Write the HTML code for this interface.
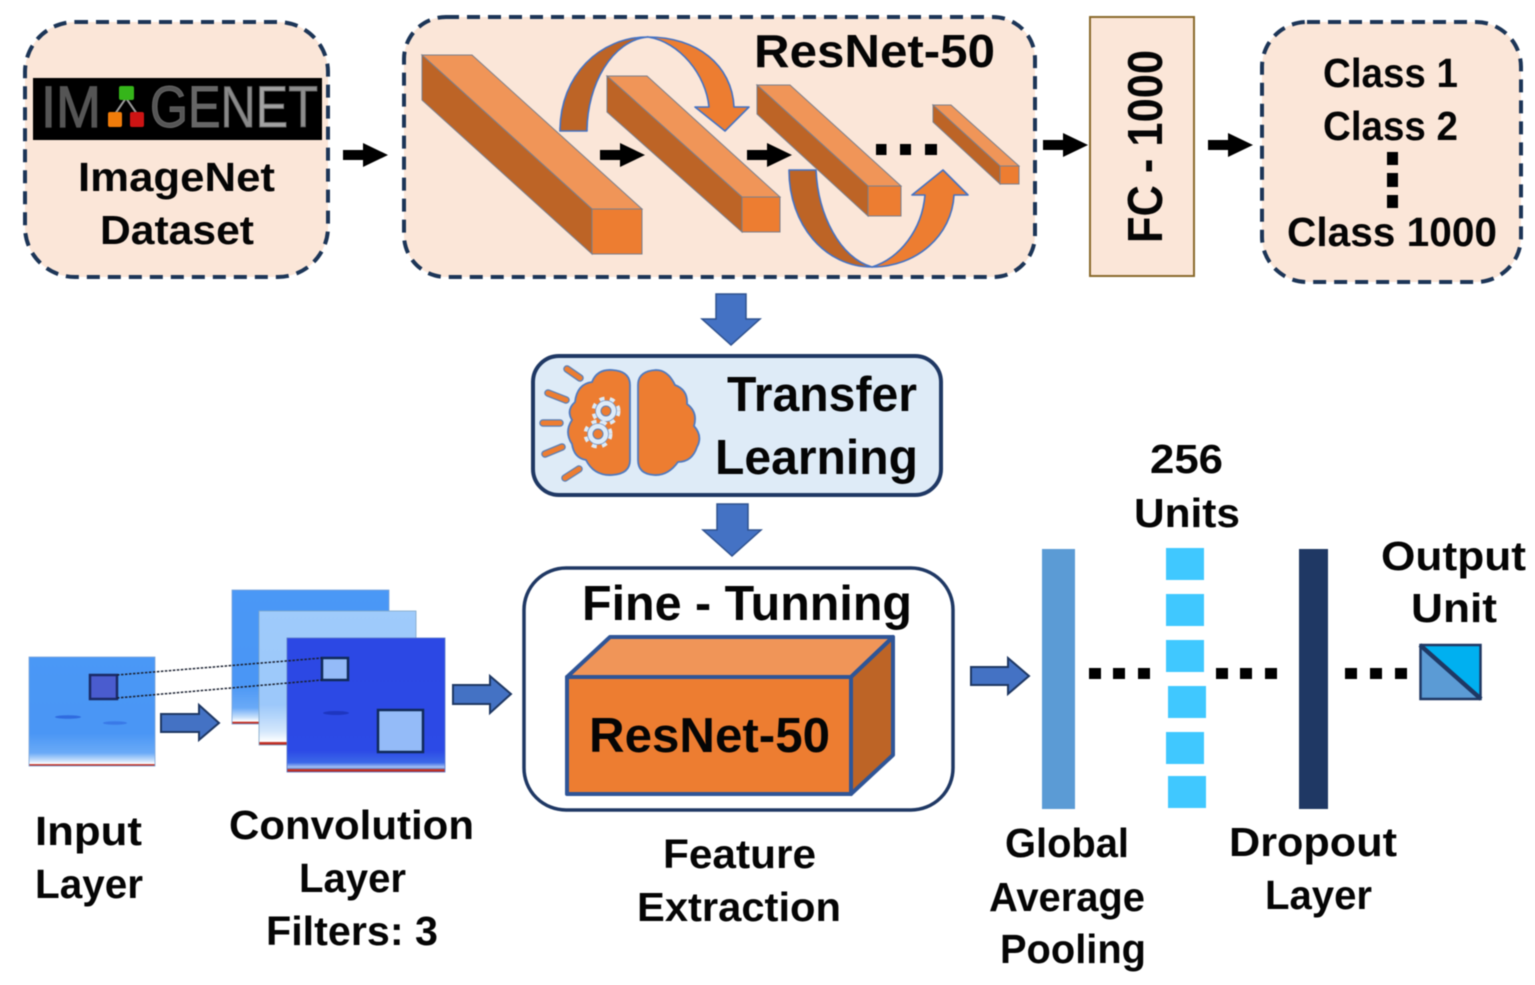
<!DOCTYPE html>
<html>
<head>
<meta charset="utf-8">
<style>
html,body{margin:0;padding:0;background:#fff;width:1535px;height:985px;overflow:hidden}
svg{display:block;filter:blur(0.45px)}
text{font-family:"Liberation Sans",sans-serif;font-weight:bold;fill:#050505}
</style>
</head>
<body>
<svg width="1535" height="985" viewBox="0 0 1535 985" xmlns="http://www.w3.org/2000/svg">
<defs>
<path id="ba" d="M0,-5 H20 V-12 L45,0 L20,12 V5 H0 Z" fill="#000"/>
<linearGradient id="g1" x1="0" y1="0" x2="0" y2="1">
<stop offset="0" stop-color="#4a98f6"/><stop offset=".7" stop-color="#4a96f5"/><stop offset=".88" stop-color="#6aaaf7"/><stop offset=".95" stop-color="#c8e0fb"/><stop offset=".98" stop-color="#fff"/><stop offset=".985" stop-color="#c8392c"/><stop offset="1" stop-color="#b0201c"/>
</linearGradient>
<linearGradient id="g2" x1="0" y1="0" x2="0" y2="1">
<stop offset="0" stop-color="#9fcbfb"/><stop offset=".7" stop-color="#9cc8fa"/><stop offset=".9" stop-color="#d5e8fc"/><stop offset=".975" stop-color="#fff"/><stop offset=".98" stop-color="#c8392c"/><stop offset="1" stop-color="#b0201c"/>
</linearGradient>
<linearGradient id="g3" x1="0" y1="0" x2="0" y2="1">
<stop offset="0" stop-color="#2c48e4"/><stop offset=".84" stop-color="#2c4ae6"/><stop offset=".93" stop-color="#3c68e8"/><stop offset=".965" stop-color="#a8c4f4"/><stop offset=".975" stop-color="#5a88d8"/><stop offset=".98" stop-color="#c8392c"/><stop offset="1" stop-color="#b0201c"/>
</linearGradient>
</defs>

<rect width="1535" height="985" fill="#fff"/>

<!-- ImageNet -->
<rect x="25" y="22" width="303" height="255" rx="50" fill="#fbe6d8" stroke="#1c3557" stroke-width="4" stroke-dasharray="13 8"/>
<rect x="33" y="78" width="289" height="62" fill="#000"/>
<text x="41" y="127" font-size="58" textLength="60" lengthAdjust="spacingAndGlyphs" style="font-weight:normal;fill:#555;stroke:#555;stroke-width:1.200">IM</text>
<text x="150" y="127" font-size="58" textLength="168" lengthAdjust="spacingAndGlyphs" style="font-weight:normal;stroke:#666;stroke-width:1"><tspan fill="#555">G</tspan><tspan fill="#666">E</tspan><tspan fill="#8a8a8a">N</tspan><tspan fill="#a2a2a2">E</tspan><tspan fill="#8e8e8e">T</tspan></text>
<path d="M126,98 L115,114 M126,98 L137,114" stroke="#999" stroke-width="2"/>
<rect x="119" y="86" width="15" height="14" rx="2" fill="#35b51a"/>
<rect x="108" y="112" width="14" height="15" rx="2" fill="#f07c0a"/>
<rect x="130" y="112" width="14" height="15" rx="2" fill="#cc1414"/>
<text x="78" y="191" font-size="41" textLength="197" lengthAdjust="spacingAndGlyphs">ImageNet</text>
<text x="100" y="244" font-size="41" textLength="154" lengthAdjust="spacingAndGlyphs">Dataset</text>
<use href="#ba" x="343" y="155"/>

<!-- ResNet -->
<rect x="404" y="17" width="631" height="260" rx="42" fill="#fbe6d8" stroke="#1c3557" stroke-width="4" stroke-dasharray="13 8"/>
<text x="754" y="67" font-size="46" textLength="241" lengthAdjust="spacingAndGlyphs">ResNet-50</text>

<g stroke="#7b7f8c" stroke-width="1">
<path d="M422,55 L472,55 L642,209 L592,209 Z" fill="#f09558"/>
<path d="M422,55 L592,209 L592,254 L422,100 Z" fill="#bd6426"/>
<rect x="592" y="209" width="50" height="45" fill="#ed7d31"/>
<path d="M607,76 L647,76 L780,197 L742,197 Z" fill="#f09558"/>
<path d="M607,76 L742,197 L742,232 L607,112 Z" fill="#bd6426"/>
<rect x="742" y="197" width="38" height="35" fill="#ed7d31"/>
<path d="M757,85 L790,85 L901,186 L868,186 Z" fill="#f09558"/>
<path d="M757,85 L868,186 L868,216 L757,114 Z" fill="#bd6426"/>
<rect x="868" y="186" width="33" height="30" fill="#ed7d31"/>
<path d="M933,105 L951,105 L1019,166 L1000,166 Z" fill="#f09558"/>
<path d="M933,105 L1000,166 L1000,184 L933,122 Z" fill="#bd6426"/>
<rect x="1000" y="166" width="19" height="18" fill="#ed7d31"/>
</g>

<g stroke="#4472c4" stroke-width="1.600" stroke-linejoin="round">
<path d="M560,131 C560,75 600,37 648,37 C612,40 587,85 587,131 Z" fill="#bd6426"/>
<path d="M648,37 C697,37 732,65 734,107 L749,107 L725,131 L695,107 L709,107 C706,75 680,42 648,37 Z" fill="#ed7d31"/>
<path d="M789,170 L816,170 C818,215 840,258 872,267 C825,267 789,225 789,170 Z" fill="#bd6426"/>
<path d="M872,267 C917,267 952,235 954,195 L968,195 L943,170 L912,195 L925,195 C922,230 900,258 872,267 Z" fill="#ed7d31"/>
</g>

<use href="#ba" x="600" y="155"/>
<use href="#ba" x="747" y="155"/>
<g fill="#000">
<rect x="876" y="144" width="10.500" height="11"/><rect x="900" y="144" width="11" height="11"/><rect x="925" y="144" width="12" height="11"/>
</g>
<use href="#ba" x="1043" y="145"/>

<!-- FC -->
<rect x="1090" y="17" width="104" height="259" fill="#fbe6d8" stroke="#8a6a2c" stroke-width="2"/>
<text transform="translate(1162,243) rotate(-90)" font-size="49" textLength="193" lengthAdjust="spacingAndGlyphs">FC - 1000</text>
<use href="#ba" x="1208" y="145"/>

<!-- Classes -->
<rect x="1262" y="22" width="259" height="260" rx="45" fill="#fbe6d8" stroke="#1c3557" stroke-width="4" stroke-dasharray="13 8"/>
<text x="1323" y="87" font-size="41" textLength="135" lengthAdjust="spacingAndGlyphs">Class 1</text>
<text x="1323" y="140" font-size="41" textLength="135" lengthAdjust="spacingAndGlyphs">Class 2</text>
<text x="1287" y="246" font-size="41" textLength="210" lengthAdjust="spacingAndGlyphs">Class 1000</text>
<g fill="#000"><rect x="1387" y="152" width="11" height="13"/><rect x="1387" y="173" width="11" height="14"/><rect x="1387" y="195" width="11" height="13"/></g>

<!-- Blue down arrows -->
<path d="M716,294 H746 V319 H760 L731,345 L702,319 H716 Z" fill="#4472c4" stroke="#2f528f" stroke-width="1.500"/>
<path d="M717,504 H748 V530 H761 L732,556 L703,530 H717 Z" fill="#4472c4" stroke="#2f528f" stroke-width="1.500"/>

<!-- Transfer -->
<rect x="533" y="356" width="408" height="139" rx="26" fill="#deebf7" stroke="#1f3864" stroke-width="4"/>
<text x="727" y="411" font-size="49" textLength="190" lengthAdjust="spacingAndGlyphs">Transfer</text>
<text x="715" y="474" font-size="49" textLength="203" lengthAdjust="spacingAndGlyphs">Learning</text>
<g stroke-linecap="round">
<g stroke="#5b7fb5" stroke-width="7.500">
<path d="M567,369 L580,378 M548,393 L566,400 M543,423 L560,423 M545,454 L562,447 M565,478 L579,469"/>
</g>
<g stroke="#ed7d31" stroke-width="5">
<path d="M567,369 L580,378 M548,393 L566,400 M543,423 L560,423 M545,454 L562,447 M565,478 L579,469"/>
</g>
</g>
<path d="M630,385 Q630,371 612,370 Q597,369 592,382 Q577,384 575,402 Q566,410 572,420 Q564,432 572,444 Q574,458 586,460 Q594,476 612,475 Q630,474 630,460 Z" fill="#ed7d31" stroke="#4f7ac0" stroke-width="1.800"/>
<path d="M638,385 Q638,371 656,370 Q668,370 675,385 Q688,390 687,404 Q698,412 694,426 Q703,436 697,447 Q692,462 678,462 Q668,476 654,475 Q638,474 638,460 Z" fill="#ed7d31" stroke="#4f7ac0" stroke-width="1.800"/>
<g>
<circle cx="606" cy="411" r="12.500" fill="none" stroke="#deebf7" stroke-width="4" stroke-dasharray="5 5.400"/>
<circle cx="606" cy="411" r="10.500" fill="#deebf7" stroke="#6f92c4" stroke-width=".8"/>
<circle cx="606" cy="411" r="5" fill="#ed7d31" stroke="#5b7fb5" stroke-width="1"/>
<circle cx="598" cy="434" r="12.500" fill="none" stroke="#deebf7" stroke-width="4" stroke-dasharray="5 5.400"/>
<circle cx="598" cy="434" r="10.500" fill="#deebf7" stroke="#6f92c4" stroke-width=".8"/>
<circle cx="598" cy="434" r="5" fill="#ed7d31" stroke="#5b7fb5" stroke-width="1"/>
</g>

<!-- Input images -->
<rect x="29" y="657" width="126" height="109" fill="url(#g1)" stroke="#7ea6d8" stroke-width=".8"/>
<rect x="90" y="675" width="27" height="24" fill="#4a5ccf" stroke="#1a2a66" stroke-width="2.500"/>
<ellipse cx="68" cy="717" rx="13" ry="1.800" fill="#2f6be0"/>
<ellipse cx="115" cy="723" rx="12" ry="1.800" fill="#3a7ae8"/>
<rect x="232" y="590" width="157" height="134" fill="url(#g1)" stroke="#7ea6d8" stroke-width=".8"/>
<rect x="259" y="611" width="157" height="134" fill="url(#g2)" stroke="#7ea6c8" stroke-width=".8"/>
<rect x="287" y="638" width="158" height="134" fill="url(#g3)" stroke="#5a78c8" stroke-width=".8"/>
<ellipse cx="336" cy="713" rx="13" ry="2" fill="#1e36c0"/>
<rect x="322" y="658" width="26" height="22" fill="#94bbf8" stroke="#102a5a" stroke-width="2.500"/>
<rect x="378" y="710" width="45" height="42" fill="#94bbf8" stroke="#102a5a" stroke-width="2.500"/>
<path d="M117,675 L322,658 M117,698 L322,680" stroke="#1a2030" stroke-width="1.500" stroke-dasharray="2.500 1.500" fill="none"/>

<g fill="#4472c4" stroke="#1f3864" stroke-width="2">
<path d="M161,714 H199 V705 L219,723 L199,740 V732 H161 Z"/>
<path d="M453,685 H490 V676 L511,694 L490,713 V704 H453 Z"/>
<path d="M971,667 H1008 V658 L1029,676 L1008,694 V685 H971 Z"/>
</g>

<text x="35" y="845" font-size="41" textLength="107" lengthAdjust="spacingAndGlyphs">Input</text>
<text x="35" y="898" font-size="41" textLength="108" lengthAdjust="spacingAndGlyphs">Layer</text>
<text x="229" y="839" font-size="41" textLength="245" lengthAdjust="spacingAndGlyphs">Convolution</text>
<text x="299" y="892" font-size="41" textLength="107" lengthAdjust="spacingAndGlyphs">Layer</text>
<text x="266" y="945" font-size="41" textLength="172" lengthAdjust="spacingAndGlyphs">Filters: 3</text>

<!-- Fine tuning -->
<rect x="524" y="568" width="429" height="242" rx="42" fill="#fff" stroke="#1f3864" stroke-width="3.500"/>
<text x="582" y="620" font-size="49" textLength="330" lengthAdjust="spacingAndGlyphs">Fine - Tunning</text>
<g stroke="#2f5597" stroke-width="4" stroke-linejoin="round">
<path d="M567,677 L610,637 L893,637 L851,677 Z" fill="#f09558"/>
<path d="M851,677 L893,637 L893,755 L851,794 Z" fill="#bd6426"/>
<rect x="567" y="677" width="284" height="117" fill="#ed7d31"/>
</g>
<text x="589" y="752" font-size="49" textLength="241" lengthAdjust="spacingAndGlyphs">ResNet-50</text>
<text x="663" y="868" font-size="41" textLength="153" lengthAdjust="spacingAndGlyphs">Feature</text>
<text x="637" y="921" font-size="41" textLength="204" lengthAdjust="spacingAndGlyphs">Extraction</text>

<!-- Right layers -->
<rect x="1042" y="549" width="33" height="260" fill="#5b9bd5"/>
<g fill="#40c8ff">
<rect x="1166" y="548" width="38" height="32"/>
<rect x="1166" y="594" width="38" height="32"/>
<rect x="1166" y="640" width="38" height="32"/>
<rect x="1168" y="686" width="38" height="32"/>
<rect x="1166" y="732" width="38" height="32"/>
<rect x="1168" y="776" width="38" height="32"/>
</g>
<rect x="1299" y="549" width="29" height="260" fill="#1f3864"/>
<g fill="#000">
<rect x="1089" y="668" width="12" height="11"/><rect x="1113" y="668" width="12" height="11"/><rect x="1138" y="668" width="12" height="11"/>
<rect x="1216" y="668" width="12" height="11"/><rect x="1240" y="668" width="12" height="11"/><rect x="1265" y="668" width="12" height="11"/>
<rect x="1345" y="668" width="12" height="11"/><rect x="1370" y="668" width="12" height="11"/><rect x="1395" y="668" width="12" height="11"/>
</g>
<path d="M1420,645 H1481 V699 Z" fill="#00b0f0"/>
<path d="M1420,645 V699 H1481 Z" fill="#5b9bd5"/>
<rect x="1420.500" y="645" width="60" height="54" fill="none" stroke="#1f3864" stroke-width="2.500"/>
<path d="M1420,645 L1481,699" stroke="#1f3864" stroke-width="4.500"/>

<text x="1150" y="473" font-size="41" textLength="73" lengthAdjust="spacingAndGlyphs">256</text>
<text x="1134" y="527" font-size="41" textLength="106" lengthAdjust="spacingAndGlyphs">Units</text>
<text x="1381" y="570" font-size="41" textLength="145" lengthAdjust="spacingAndGlyphs">Output</text>
<text x="1411" y="622" font-size="41" textLength="86" lengthAdjust="spacingAndGlyphs">Unit</text>
<text x="1005" y="857" font-size="41" textLength="124" lengthAdjust="spacingAndGlyphs">Global</text>
<text x="989" y="911" font-size="41" textLength="156" lengthAdjust="spacingAndGlyphs">Average</text>
<text x="1000" y="963" font-size="41" textLength="146" lengthAdjust="spacingAndGlyphs">Pooling</text>
<text x="1229" y="856" font-size="41" textLength="168" lengthAdjust="spacingAndGlyphs">Dropout</text>
<text x="1265" y="909" font-size="41" textLength="107" lengthAdjust="spacingAndGlyphs">Layer</text>
</svg>
</body>
</html>
